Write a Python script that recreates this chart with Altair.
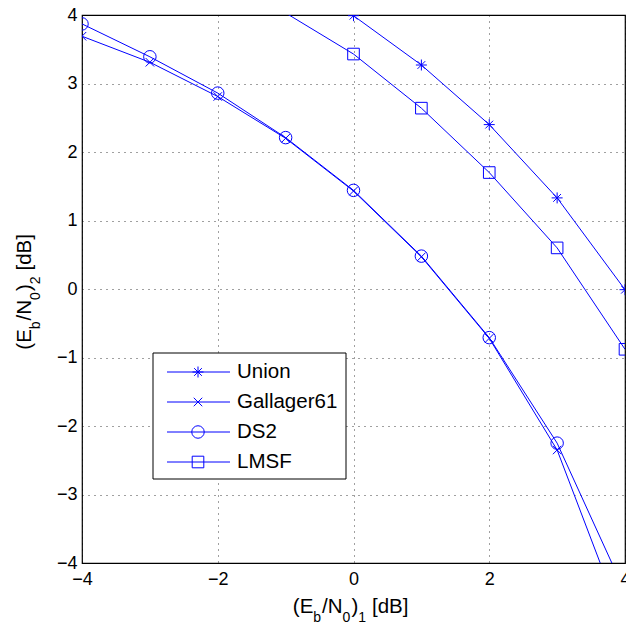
import altair as alt
import pandas as pd

# ---------------- data ----------------
series_names = ["Union", "Gallager61", "DS2", "LMSF"]
union_x = [0, 1, 2, 3, 4]
union_y = [3.99, 3.27, 2.40, 1.33, -0.01]
gallager_x = [-4, -3, -2, -1, 0, 1, 2, 3, 4]
gallager_y = [3.69, 3.31, 2.81, 2.20, 1.43, 0.47, -0.72, -2.35, -4.95]
ds2_x = [-4, -3, -2, -1, 0, 1, 2, 3, 4]
ds2_y = [3.87, 3.39, 2.86, 2.21, 1.44, 0.48, -0.71, -2.25, -4.42]
lmsf_x = [-1, 0, 1, 2, 3, 4]
lmsf_y = [4.03, 3.43, 2.64, 1.70, 0.60, -0.88]
x_ticks = [-4, -2, 0, 2, 4]
y_ticks = [-4, -3, -2, -1, 0, 1, 2, 3, 4]

rows = []
for name, xs, ys in zip(series_names,
                        [union_x, gallager_x, ds2_x, lmsf_x],
                        [union_y, gallager_y, ds2_y, lmsf_y]):
    for a, b in zip(xs, ys):
        rows.append({"series": name, "x": a, "y": b})
df = pd.DataFrame(rows)

# ---------------- styles ----------------
BLUE = "#0000ff"
FONT = "Liberation Sans"
W, H = 543, 548
PAD = {"left": 74, "top": 7, "right": 1, "bottom": 61}
SHAPES = [
    "M-0.88,0L0.88,0M0,-0.88L0,0.88M-0.62,-0.62L0.62,0.62M-0.62,0.62L0.62,-0.62",
    "M-0.68,-0.68L0.68,0.68M-0.68,0.68L0.68,-0.68",
    "circle",
    "M-0.93,-0.93L0.93,-0.93L0.93,0.93L-0.93,0.93Z",
]
MSIZE = 156

xenc = alt.X("x:Q", scale=alt.Scale(domain=[-4, 4], nice=False, zero=False),
             axis=alt.Axis(values=x_ticks, title="", grid=True, labelPadding=7,
                           labelFlush=False, labelOverlap=False))
yenc = alt.Y("y:Q", scale=alt.Scale(domain=[-4, 4], nice=False, zero=False),
             axis=alt.Axis(values=y_ticks, title="", grid=True, labelPadding=5,
                           labelFlush=False, labelOverlap=False))

lines = alt.Chart(df).mark_line(clip=True, color=BLUE, strokeWidth=1).encode(
    x=xenc, y=yenc, detail="series:N")

points = alt.Chart(df).transform_filter(
    "datum.y <= 4 && datum.y >= -4 && datum.x >= -4 && datum.x <= 4"
).mark_point(filled=False, clip=True, color=BLUE, strokeWidth=1, size=MSIZE, opacity=1).encode(
    x=xenc, y=yenc,
    shape=alt.Shape("series:N", scale=alt.Scale(domain=series_names, range=SHAPES), legend=None))

layers = [lines, points]

# ---------------- axis titles with subscripts ----------------
CW = {'(': 333, ')': 333, 'E': 667, 'N': 722, '/': 278, ' ': 278, '[': 278, ']': 278,
      'd': 556, 'B': 667, 'b': 556, '0': 556, '1': 556, '2': 556}
MAIN_FS, SUB_FS, SUB_DY = 20.5, 14, 9


def tw(s, fs):
    return sum(CW[c] for c in s) * fs / 1000.0


def title_pieces(idx):
    return [("(E", False), ("b", True), ("/N", False), ("0", True), (")", False),
            (idx, True), (" [dB]", False)]


def build_title(pieces, rotated):
    out = []
    offs = []
    cur = 0.0
    for txt, sub in pieces:
        if txt.startswith(" "):
            cur += 5
        offs.append(cur)
        cur += tw(txt, SUB_FS if sub else MAIN_FS) + (1 if sub else 0)
    total = cur
    for (txt, sub), o in zip(pieces, offs):
        fs = SUB_FS if sub else MAIN_FS
        dy = SUB_DY if sub else 0
        if rotated:
            mk = alt.Chart(alt.Data(values=[{}])).mark_text(
                align="left", baseline="alphabetic", font=FONT, fontSize=fs, color="black",
                angle=270, dx=o, dy=dy)
            enc = dict(x=alt.value(-51), y=alt.value(H / 2 + total / 2), text=alt.value(txt))
        else:
            mk = alt.Chart(alt.Data(values=[{}])).mark_text(
                align="left", baseline="alphabetic", font=FONT, fontSize=fs, color="black",
                dx=o, dy=dy)
            enc = dict(x=alt.value(W / 2 - total / 2), y=alt.value(H + 50), text=alt.value(txt))
        out.append(mk.encode(**enc))
    return out


layers += build_title(title_pieces("1"), rotated=False)
layers += build_title(title_pieces("2"), rotated=True)

# ---------------- legend (MATLAB style box) ----------------
one = alt.Data(values=[{}])
layers.append(alt.Chart(one).mark_rect(fill="white", stroke="black", strokeWidth=1).encode(
    x=alt.value(71), x2=alt.value(264), y=alt.value(338), y2=alt.value(464)))
for i, name in enumerate(series_names):
    ry = 357 + 30 * i
    layers.append(alt.Chart(one).mark_rule(color=BLUE, strokeWidth=1).encode(
        x=alt.value(85), x2=alt.value(148), y=alt.value(ry)))
    layers.append(alt.Chart(one).mark_point(filled=False, color=BLUE, strokeWidth=1,
                                            size=MSIZE, opacity=1).encode(
        x=alt.value(116), y=alt.value(ry), shape=alt.value(SHAPES[i])))
    layers.append(alt.Chart(one).mark_text(align="left", baseline="middle", font=FONT,
                                           fontSize=20.5, color="black").encode(
        x=alt.value(155), y=alt.value(ry), text=alt.value(name)))

chart = alt.layer(*layers).properties(
    width=W, height=H,
    autosize=alt.AutoSizeParams(type="none"),
    padding=PAD,
    background="white",
).configure_view(
    stroke="black", strokeWidth=1.2
).configure_axis(
    labelFont=FONT, labelFontSize=18, labelColor="black",
    domain=False, ticks=False,
    gridColor="#000000", gridDash=[1, 5], gridWidth=1, gridOpacity=0.75,
)

chart.save("out.html", embed_options={"renderer": "svg", "actions": False})
